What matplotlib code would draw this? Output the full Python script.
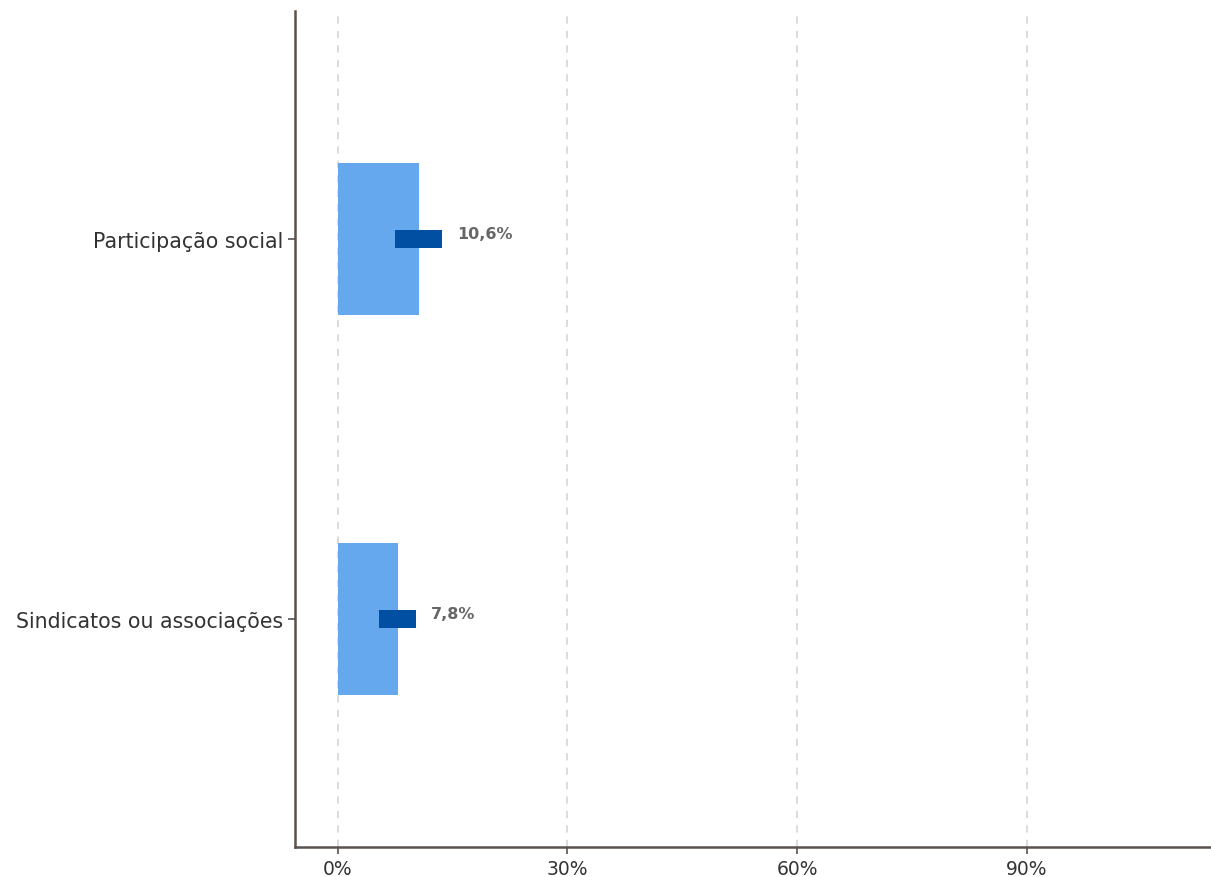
import matplotlib.pyplot as plt
from matplotlib.ticker import FuncFormatter

plt.rcParams['font.family'] = ['DejaVu Sans']

categorias = ["Sindicatos ou associações", "Participação social"]
valores = [7.8, 10.6]
ic_inf = [5.4, 7.5]
ic_sup = [10.2, 13.6]
rotulos = ["7,8%", "10,6%"]

fig = plt.figure(figsize=(12.11, 8.78), dpi=100)
ax = fig.add_axes([295 / 1211, 30 / 878, 1 - 295 / 1211, 836 / 878])

pos = list(range(len(categorias)))

ax.barh(pos, valores, height=0.4, color='#66a8ee', zorder=2)
larg = [s - i for s, i in zip(ic_sup, ic_inf)]
ax.barh(pos, larg, left=ic_inf, height=0.048, color='#004fa3', zorder=3)

for p, s, r in zip(pos, ic_sup, rotulos):
    ax.text(s + 2.0, p + 0.015, r, ha='left', va='center', fontsize=11.5,
            fontweight='bold', color='#666666', zorder=4)

ax.set_xlim(-5.6, 114.1)
ax.set_ylim(-0.6, 1.6)
ax.set_xticks([0, 30, 60, 90])
ax.xaxis.set_major_formatter(FuncFormatter(lambda v, _: f"{v:.0f}%"))
ax.set_yticks(pos)
ax.set_yticklabels(categorias)

ax.grid(axis='x', linestyle=(0, (4, 4)), color='#d9d9d9', linewidth=1.3, zorder=0)
ax.grid(axis='y', visible=False)

for lado in ['top', 'right']:
    ax.spines[lado].set_visible(False)
for lado in ['left', 'bottom']:
    ax.spines[lado].set_color('#5a524d')
    ax.spines[lado].set_linewidth(1.8)

ax.tick_params(axis='both', colors='#5a524d', length=5, width=1.2,
               labelcolor='#333333')
ax.tick_params(axis='y', labelsize=14.8)
ax.tick_params(axis='x', labelsize=13.5)

fig.savefig('out.png', dpi=100)
